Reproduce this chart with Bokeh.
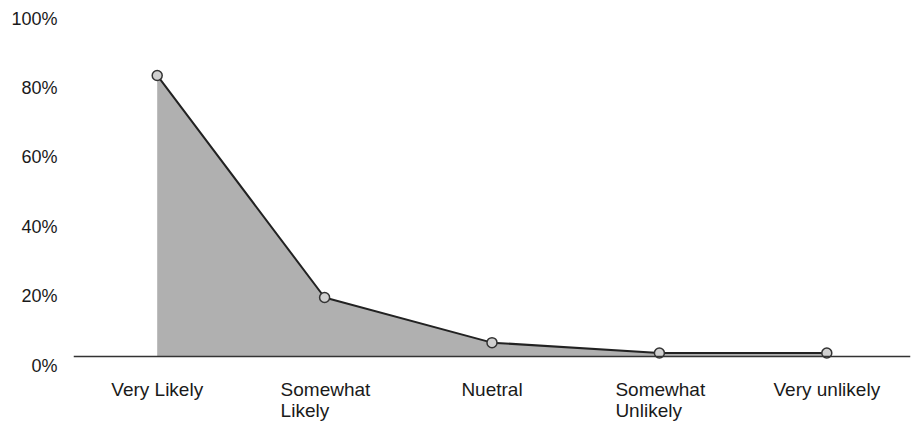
from bokeh.plotting import figure
from bokeh.models import FactorRange, Range1d, LinearAxis, FixedTicker, PrintfTickFormatter, Span, ColumnDataSource
from bokeh.core.properties import value
from bokeh.embed import file_html
from bokeh.resources import INLINE

categories = ["Very Likely", "Somewhat Likely", "Nuetral", "Somewhat Unlikely", "Very unlikely"]
tick_labels = ["Very Likely", "Somewhat\nLikely", "Nuetral", "Somewhat\nUnlikely", "Very unlikely"]
percent = [81, 17, 4, 1, 1]
y_ticks = [0, 20, 40, 60, 80, 100]

FONT = "Liberation Sans"
Y_START, Y_END = -18.73, 102.6
LABEL_SHIFT = 2.6

p = figure(width=915, height=421, output_backend="svg", toolbar_location=None,
           x_range=FactorRange(factors=categories),
           y_range=Range1d(Y_START, Y_END),
           x_axis_location=None, y_axis_location=None,
           min_border_left=73, min_border_right=5, min_border_top=0, min_border_bottom=0)
p.outline_line_color = None
p.grid.visible = False
p.background_fill_color = "white"

p.extra_y_ranges = {"ylab": Range1d(Y_START + LABEL_SHIFT, Y_END + LABEL_SHIFT)}
yax = LinearAxis(y_range_name="ylab", ticker=FixedTicker(ticks=y_ticks),
                 formatter=PrintfTickFormatter(format="%d%%"))
yax.axis_line_color = None
yax.major_tick_line_color = None
yax.minor_tick_line_color = None
yax.major_tick_out = 0
yax.major_label_standoff = 16
yax.major_label_text_font = FONT
yax.major_label_text_font_size = "18px"
yax.major_label_text_color = "#1a1a1a"
p.add_layout(yax, "left")

src = ColumnDataSource(dict(cat=categories, pct=percent, zero=[0] * len(percent)))
p.varea(x="cat", y1="zero", y2="pct", source=src, fill_color="#b0b0b0", fill_alpha=1.0)
p.line(x="cat", y="pct", source=src, line_color="#222222", line_width=2)

p.add_layout(Span(location=0, dimension="width", line_color="#333333", line_width=1.5))

p.scatter(x="cat", y="pct", source=src, size=10, fill_color="#d0d0d0",
          line_color="#333333", line_width=1.5)

single = [(c, t) for c, t in zip(categories, tick_labels) if "\n" not in t]
multi = [(c, t) for c, t in zip(categories, tick_labels) if "\n" in t]
s1 = ColumnDataSource(dict(cat=[c for c, _ in single], txt=[t for _, t in single], zero=[0] * len(single)))
s2 = ColumnDataSource(dict(cat=[c for c, _ in multi], txt=[t for _, t in multi], zero=[0] * len(multi)))
p.text(x="cat", y="zero", text="txt", source=s1, text_font=value(FONT), text_font_size="19px",
       text_color="#1a1a1a", text_align="center", text_baseline="top", y_offset=22)
p.text(x="cat", y="zero", text="txt", source=s2, text_font=value(FONT), text_font_size="19px",
       text_color="#1a1a1a", text_align="left", text_baseline="top", y_offset=22, x_offset=-44,
       text_line_height=1.0)

open("out.html", "w").write(file_html(p, INLINE))
